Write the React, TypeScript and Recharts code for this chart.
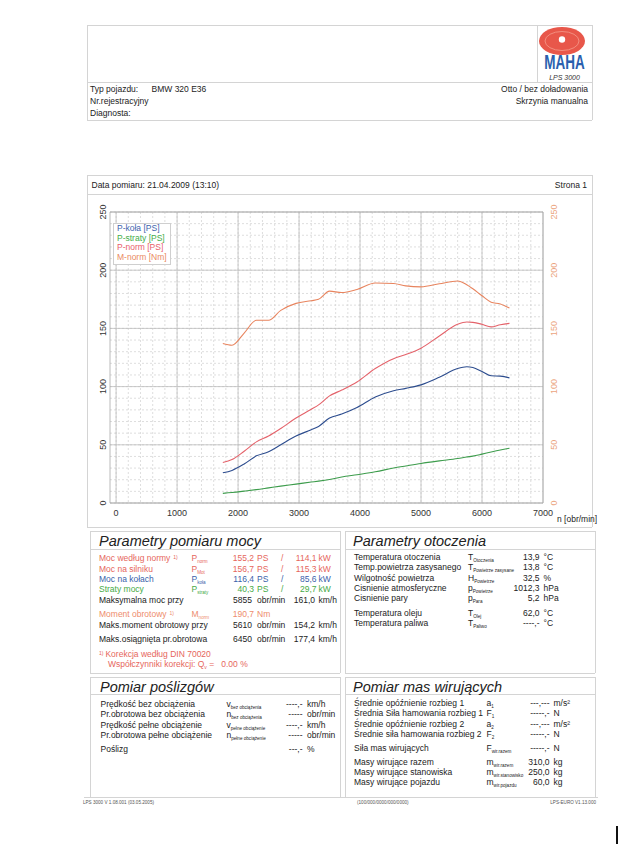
import React from 'react';
import { LineChart, Line, XAxis, YAxis, CartesianGrid, Legend, ReferenceArea } from 'recharts';

// ---- chart data ----
const rpm = [1750, 1900, 2100, 2300, 2500, 2700, 2950, 3200, 3320, 3500, 3700, 3950, 4250, 4550, 4750, 5000, 5300, 5600, 5750, 5850, 6000, 6150, 6300, 6450];
const pKola = [26, 28, 33.5, 40.5, 44, 50, 57.5, 63, 65.8, 73, 76.4, 82, 91, 96.4, 98.5, 101.5, 108, 115.5, 117, 116.4, 113, 109.3, 109, 107.5];
const pStraty = [8.3, 9, 10.2, 11.5, 13, 14.5, 16.2, 18, 18.8, 20.2, 22.3, 24.3, 26.8, 30, 31.8, 34, 36.2, 38.2, 39.5, 40.3, 42, 43.8, 45.5, 47];
const pNorm = [34.8, 37.3, 44.5, 52.5, 57.5, 64, 73, 80.5, 84.3, 92, 97, 104, 115.5, 124, 127.5, 133, 143.5, 153.5, 155.5, 155.2, 153.5, 151.3, 153.2, 154.3];
const mNorm = [137, 135.5, 146, 157, 157, 165.5, 171.5, 173.8, 175, 182, 180.8, 183.5, 189, 188.6, 186.5, 185.7, 188.3, 190.7, 187.5, 184, 178, 172.5, 171, 167.5];

const seriesNames = ['P-koła [PS]', 'P-straty [PS]', 'P-norm [PS]', 'M-norm [Nm]'];
const xTicks = [0, 1000, 2000, 3000, 4000, 5000, 6000, 7000];
const yTicks = [0, 50, 100, 150, 200, 250];
const minorX = Array.from({ length: 35 }, (_, i) => i * 200);
const minorY = Array.from({ length: 26 }, (_, i) => i * 10);

const data = rpm.map((r, i) => ({ rpm: r, pKola: pKola[i], pStraty: pStraty[i], pNorm: pNorm[i], mNorm: mNorm[i] }));

const C_BLUE = '#2c4c8e';
const C_GREEN = '#3d9c4c';
const C_RED = '#e4626a';
const C_ORANGE = '#e8845e';
const FONT = '"Liberation Sans", Arial, sans-serif';

const LTick = (props: any) => {
  const { y, payload } = props;
  return (
    <text x={26} y={y} transform={`rotate(-90, 26, ${y})`} textAnchor="middle" fontSize={9} fill="#333" fontFamily={FONT}>
      {payload.value}
    </text>
  );
};
const RTick = (props: any) => {
  const { y, payload } = props;
  return (
    <text x={477} y={y} transform={`rotate(-90, 477, ${y})`} textAnchor="middle" fontSize={9} fill="#eba47e" fontFamily={FONT}>
      {payload.value}
    </text>
  );
};
const XTick = (props: any) => {
  const { x, payload } = props;
  return (
    <text x={x} y={321} textAnchor="middle" fontSize={9} fill="#333" fontFamily={FONT}>
      {payload.value}
    </text>
  );
};

const legendColors = ['#3d63ad', '#3fae4a', '#e8606a', '#ea8a62'];
const LegendBox = (props: any) => {
  const payload = [...(props.payload || [])].sort(
    (a: any, b: any) => seriesNames.indexOf(a.value) - seriesNames.indexOf(b.value)
  );
  return (
    <div style={{ border: '1px solid #cfcfcf', background: '#fff', padding: '0px 3px 1px 3px', fontFamily: FONT, fontSize: 8.5, lineHeight: '9.7px', whiteSpace: 'nowrap' }}>
      {payload.map((p: any, i: number) => (
        <div key={i} style={{ color: legendColors[seriesNames.indexOf(p.value)] || p.color }}>{p.value}</div>
      ))}
    </div>
  );
};

// ---- page helpers ----
const T = ({ x, y, children, size = 8.5, color = '#222', right = false, italic = false }: any) => (
  <div
    style={{
      position: 'absolute',
      top: y - 5,
      ...(right ? { right: 620 - x } : { left: x }),
      fontSize: size,
      lineHeight: '10px',
      color,
      fontStyle: italic ? 'italic' : 'normal',
      whiteSpace: 'nowrap',
      fontFamily: FONT,
    }}
  >
    {children}
  </div>
);
const H = ({ x, y, children }: any) => (
  <div style={{ position: 'absolute', left: x, top: y - 9, fontSize: 14.5, lineHeight: '18px', fontStyle: 'italic', color: '#222', whiteSpace: 'nowrap', fontFamily: FONT }}>{children}</div>
);
const Sym = ({ m, s }: any) => (
  <span>
    {m}
    <span style={{ fontSize: 4.6, position: 'relative', top: 2 }}>{s}</span>
  </span>
);
const HL = ({ x1, x2, y, c = '#d4d4d4' }: any) => (
  <div style={{ position: 'absolute', left: x1, top: y, width: x2 - x1, height: 1, background: c }} />
);
const VL = ({ x, y1, y2, c = '#d4d4d4' }: any) => (
  <div style={{ position: 'absolute', left: x, top: y1, width: 1, height: y2 - y1, background: c }} />
);

const RED = '#e6665c';
const ORANGE_T = '#ee8c6c';
const BLUE_T = '#3a5faa';
const GREEN_T = '#46aa46';

const powerRows = [
  { y: 558, label: 'Moc według normy', sup: true, sym: 'P', sub: 'norm', v1: '155,2', u1: 'PS', v2: '114,1', u2: 'kW', color: RED },
  { y: 568.5, label: 'Moc na silniku', sym: 'P', sub: 'Mot', v1: '156,7', u1: 'PS', v2: '115,3', u2: 'kW', color: RED },
  { y: 579, label: 'Moc na kołach', sym: 'P', sub: 'koła', v1: '116,4', u1: 'PS', v2: '85,6', u2: 'kW', color: BLUE_T },
  { y: 589, label: 'Straty mocy', sym: 'P', sub: 'straty', v1: '40,3', u1: 'PS', v2: '29,7', u2: 'kW', color: GREEN_T },
];

const envRows = [
  { y: 557, label: 'Temperatura otoczenia', sym: 'T', sub: 'Otoczenia', v: '13,9', u: '°C' },
  { y: 567, label: 'Temp.powietrza zasysanego', sym: 'T', sub: 'Powietrze zasysane', v: '13,8', u: '°C' },
  { y: 577.5, label: 'Wilgotność powietrza', sym: 'H', sub: 'Powietrze', v: '32,5', u: '%' },
  { y: 588, label: 'Cisnienie atmosferyczne', sym: 'p', sub: 'Powietrze', v: '1012,3', u: 'hPa' },
  { y: 598, label: 'Cisnienie pary', sym: 'p', sub: 'Para', v: '5,2', u: 'hPa' },
  { y: 612.5, label: 'Temperatura oleju', sym: 'T', sub: 'Olej', v: '62,0', u: '°C' },
  { y: 622.5, label: 'Temperatura paliwa', sym: 'T', sub: 'Paliwo', v: '----,-', u: '°C' },
];

const slipRows = [
  { y: 703.5, label: 'Prędkość bez obciążenia', sym: 'v', sub: 'bez obciążenia', v: '----,-', u: 'km/h' },
  { y: 714, label: 'Pr.obrotowa bez obciążenia', sym: 'n', sub: 'bez obciążenia', v: '-----', u: 'obr/min' },
  { y: 724.5, label: 'Prędkość pełne obciążenie', sym: 'v', sub: 'pełne obciążenie', v: '----,-', u: 'km/h' },
  { y: 734.5, label: 'Pr.obrotowa pełne obciążenie', sym: 'n', sub: 'pełne obciążenie', v: '-----', u: 'obr/min' },
  { y: 748.5, label: 'Poślizg', sym: '', sub: '', v: '---,-', u: '%' },
];

const massRows = [
  { y: 703, label: 'Średnie opóźnienie rozbieg 1', sym: 'a', sub: '1', v: '---,---', u: 'm/s²' },
  { y: 713, label: 'Średnia Siła hamowania rozbieg 1', sym: 'F', sub: '1', v: '-----,-', u: 'N' },
  { y: 723.5, label: 'Średnie opóźnienie rozbieg 2', sym: 'a', sub: '2', v: '---,---', u: 'm/s²' },
  { y: 733.5, label: 'Średnie siła hamowania rozbieg 2', sym: 'F', sub: '2', v: '-----,-', u: 'N' },
  { y: 747.5, label: 'Siła mas wirujących', sym: 'F', sub: 'wir.razem', v: '-----,-', u: 'N' },
  { y: 762, label: 'Masy wirujące razem', sym: 'm', sub: 'wir.razem', v: '310,0', u: 'kg' },
  { y: 772, label: 'Masy wirujące stanowiska', sym: 'm', sub: 'wir.stanowisko', v: '250,0', u: 'kg' },
  { y: 782, label: 'Masy wirujące pojazdu', sym: 'm', sub: 'wir.pojazdu', v: '60,0', u: 'kg' },
];

export default function App() {
  return (
    <div style={{ position: 'absolute', left: 0, top: 0, width: 620, height: 852, background: '#fff', overflow: 'hidden', fontFamily: FONT }}>
      {/* frame lines */}
      <HL x1={87} x2={592} y={25} />
      <VL x={87} y1={25} y2={120} />
      <VL x={592} y1={25} y2={120} />
      <VL x={537} y1={25} y2={82} />
      <HL x1={87} x2={592} y={82} />
      <HL x1={87} x2={592} y={120} />

      {/* logo */}
      <svg style={{ position: 'absolute', left: 537, top: 25 }} width={55} height={57}>
        <ellipse cx={25} cy={16} rx={23} ry={14} fill="#e8574a" />
        <ellipse cx={25} cy={16} rx={17} ry={9.5} fill="none" stroke="#f49a8c" strokeWidth={0.8} />
        <circle cx={25} cy={14.5} r={3.2} fill="#fff" />
        <text transform="translate(27.5,43.5) scale(1,1.45)" x={0} y={0} textAnchor="middle" fontSize={13.5} fontWeight={900} fill="#2a5fae" fontFamily={FONT}>MAHA</text>
        <text x={27.5} y={55} textAnchor="middle" fontSize={7} fontStyle="italic" fill="#333" fontFamily={FONT}>LPS 3000</text>
      </svg>

      <T x={90} y={88.5}>Typ pojazdu:</T>
      <T x={151.5} y={88.5}>BMW 320 E36</T>
      <T x={90} y={101}>Nr.rejestracyjny</T>
      <T x={90} y={113}>Diagnosta:</T>
      <T x={588} y={88.5} right>Otto / bez doładowania</T>
      <T x={588} y={101} right>Skrzynia manualna</T>

      <HL x1={87} x2={592} y={175} />
      <HL x1={87} x2={592} y={194} />
      <VL x={87} y1={175} y2={527} />
      <VL x={592} y1={175} y2={527} />
      <HL x1={87} x2={592} y={527} />
      <T x={91.5} y={185}>Data pomiaru: 21.04.2009 (13:10)</T>
      <T x={587} y={185} right>Strona 1</T>

      {/* chart */}
      <div style={{ position: 'absolute', left: 80, top: 195, width: 530, height: 330 }}>
        <LineChart width={530} height={330} data={data} margin={{ top: 17, right: 27, bottom: 0, left: 0 }}>
          <CartesianGrid verticalValues={minorX} horizontalValues={minorY} stroke="#d0d0d0" strokeDasharray="2 2" strokeWidth={0.7} />
          <CartesianGrid verticalValues={xTicks} horizontalValues={yTicks} stroke="#bcbcbc" strokeWidth={0.8} />
          <XAxis type="number" dataKey="rpm" domain={[-100, 7000]} ticks={xTicks} interval={0} axisLine={false} tickLine={false} height={22} tick={<XTick />} allowDataOverflow />
          <YAxis domain={[0, 250]} ticks={yTicks} interval={0} width={30} axisLine={false} tickLine={false} tick={<LTick />} allowDataOverflow />
          <YAxis yAxisId="right" orientation="right" domain={[0, 250]} ticks={yTicks} interval={0} width={40} axisLine={false} tickLine={false} tick={<RTick />} allowDataOverflow />
          <ReferenceArea x1={-100} x2={7000} y1={0} y2={250} fill="none" stroke="#a8a8a8" strokeWidth={0.8} ifOverflow="visible" />
          <Line name={seriesNames[0]} dataKey="pKola" stroke={C_BLUE} strokeWidth={1.1} dot={false} type="monotone" isAnimationActive={false} />
          <Line name={seriesNames[1]} dataKey="pStraty" stroke={C_GREEN} strokeWidth={1.1} dot={false} type="monotone" isAnimationActive={false} />
          <Line name={seriesNames[2]} dataKey="pNorm" stroke={C_RED} strokeWidth={1.1} dot={false} type="monotone" isAnimationActive={false} />
          <Line name={seriesNames[3]} dataKey="mNorm" yAxisId="right" stroke={C_ORANGE} strokeWidth={1.1} dot={false} type="monotone" isAnimationActive={false} />
          <Legend layout="vertical" align="center" verticalAlign="middle" content={<LegendBox />} wrapperStyle={{ position: 'absolute', left: 33, top: 28, width: 'auto', height: 'auto' }} />
        </LineChart>
      </div>
      <T x={557} y={518.5}>n [obr/min]</T>

      {/* Parametry pomiaru mocy */}
      <HL x1={90} x2={340} y={531} />
      <VL x={90} y1={531} y2={673} />
      <VL x={340} y1={531} y2={673} />
      <HL x1={90} x2={340} y={549} />
      <HL x1={90} x2={340} y={673} />
      <H x={99} y={541}>Parametry pomiaru mocy</H>
      {powerRows.map((r, i) => (
        <React.Fragment key={i}>
          <T x={99} y={r.y} color={r.color}>
            {r.label}
            {r.sup ? <span style={{ fontSize: 5, position: 'relative', top: -2, marginLeft: 3 }}>1)</span> : null}
          </T>
          <T x={191.5} y={r.y} color={r.color}><Sym m={r.sym} s={r.sub} /></T>
          <T x={254} y={r.y} color={r.color} right>{r.v1}</T>
          <T x={257} y={r.y} color={r.color}>{r.u1}</T>
          <T x={281} y={r.y} color={r.color}>/</T>
          <T x={316.5} y={r.y} color={r.color} right>{r.v2}</T>
          <T x={318.5} y={r.y} color={r.color}>{r.u2}</T>
        </React.Fragment>
      ))}
      <T x={99} y={599.5}>Maksymalna moc przy</T>
      <T x={252} y={599.5} right>5855</T>
      <T x={257} y={599.5}>obr/min</T>
      <T x={315} y={599.5} right>161,0</T>
      <T x={318.5} y={599.5}>km/h</T>

      <T x={99} y={614} color={ORANGE_T}>Moment obrotowy<span style={{ fontSize: 5, position: 'relative', top: -2, marginLeft: 3 }}>1)</span></T>
      <T x={191.5} y={614} color={ORANGE_T}><Sym m="M" s="norm" /></T>
      <T x={254} y={614} color={ORANGE_T} right>190,7</T>
      <T x={257} y={614} color={ORANGE_T}>Nm</T>
      <T x={99} y={624.5}>Maks.moment obrotowy przy</T>
      <T x={252} y={624.5} right>5610</T>
      <T x={257} y={624.5}>obr/min</T>
      <T x={315} y={624.5} right>154,2</T>
      <T x={318.5} y={624.5}>km/h</T>
      <T x={99} y={638.5}>Maks.osiągnięta pr.obrotowa</T>
      <T x={252} y={638.5} right>6450</T>
      <T x={257} y={638.5}>obr/min</T>
      <T x={315} y={638.5} right>177,4</T>
      <T x={318.5} y={638.5}>km/h</T>
      <T x={99} y={653.5} color={RED}><span style={{ fontSize: 5, position: 'relative', top: -2, marginRight: 2 }}>1)</span>Korekcja według DIN 70020</T>
      <T x={108} y={663.5} color={RED}>Współczynniki korekcji: Q<span style={{ fontSize: 5, position: 'relative', top: 2 }}>v</span> =&nbsp;&nbsp; 0.00 %</T>

      {/* Parametry otoczenia */}
      <HL x1={345} x2={595} y={531} />
      <VL x={345} y1={531} y2={673} />
      <VL x={595} y1={531} y2={673} />
      <HL x1={345} x2={595} y={549} />
      <HL x1={345} x2={595} y={673} />
      <H x={353} y={541}>Parametry otoczenia</H>
      {envRows.map((r, i) => (
        <React.Fragment key={i}>
          <T x={354} y={r.y}>{r.label}</T>
          <T x={468} y={r.y}><Sym m={r.sym} s={r.sub} /></T>
          <T x={539.5} y={r.y} right>{r.v}</T>
          <T x={543.5} y={r.y}>{r.u}</T>
        </React.Fragment>
      ))}

      {/* Pomiar poślizgów */}
      <HL x1={90} x2={340} y={677} />
      <VL x={90} y1={677} y2={797} />
      <VL x={340} y1={677} y2={797} />
      <HL x1={90} x2={340} y={694} />
      <H x={100} y={686.5}>Pomiar poślizgów</H>
      {slipRows.map((r, i) => (
        <React.Fragment key={i}>
          <T x={100.5} y={r.y}>{r.label}</T>
          {r.sym ? <T x={226.5} y={r.y}><Sym m={r.sym} s={r.sub} /></T> : null}
          <T x={302.5} y={r.y} right>{r.v}</T>
          <T x={307} y={r.y}>{r.u}</T>
        </React.Fragment>
      ))}

      {/* Pomiar mas wirujących */}
      <HL x1={345} x2={595} y={677} />
      <VL x={345} y1={677} y2={797} />
      <VL x={595} y1={677} y2={797} />
      <HL x1={345} x2={595} y={694} />
      <H x={353} y={686.5}>Pomiar mas wirujących</H>
      {massRows.map((r, i) => (
        <React.Fragment key={i}>
          <T x={354} y={r.y}>{r.label}</T>
          <T x={486.5} y={r.y}><Sym m={r.sym} s={r.sub} /></T>
          <T x={549.5} y={r.y} right>{r.v}</T>
          <T x={553.5} y={r.y}>{r.u}</T>
        </React.Fragment>
      ))}

      <HL x1={84} x2={598} y={797} />
      <T x={83} y={803} size={4.6} color="#555">LPS 3000 V 1.08.001 (03.05.2005)</T>
      <T x={357} y={803} size={4.6} color="#555">(100/000/0000/000/0000)</T>
      <T x={596} y={803} size={4.6} color="#555" right>LPS-EURO V1.13.000</T>

      <div style={{ position: 'absolute', left: 616, top: 826, width: 2, height: 18, background: '#111' }} />
    </div>
  );
}
